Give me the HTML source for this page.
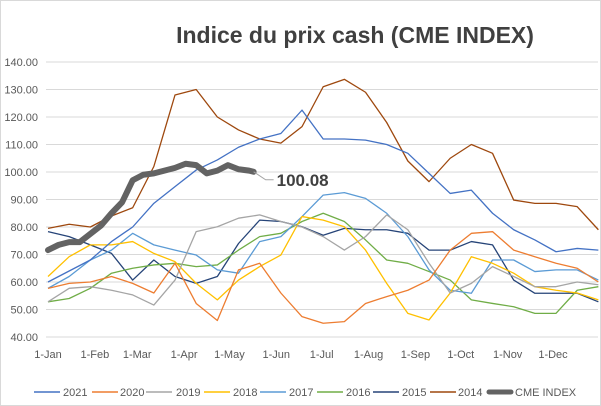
<!DOCTYPE html>
<html><head><meta charset="utf-8"><style>
html,body{margin:0;padding:0;background:#fff;}
svg{display:block;font-family:"Liberation Sans",sans-serif;}
</style></head><body>
<svg id="chart" width="601" height="406" viewBox="0 0 601 406">
<rect x="0.5" y="0.5" width="600" height="405" fill="#fff" stroke="#d9d9d9"/>
<text x="355" y="43" text-anchor="middle" font-size="23" font-weight="bold" fill="#404040">Indice du prix cash (CME INDEX)</text>
<g id="grid"></g><g id="yt"></g><g id="xt"></g><g id="series"></g><g id="legend"></g>
</svg>
<script>
const days = [0,14,28,42,56,70,84,98,112,126,140,154,168,182,196,210,224,238,252,266,280,294,308,322,336,350,364];
const s2021 = [60,64,68,74.7,80,88.6,94.7,100.7,104.4,109,112,114,122.5,112,112,111.6,110,106.8,99.5,92.2,93.4,85,79,75.3,71,72.2,71.6];
const s2020 = [57.7,59.5,60,62,59.5,56,66.8,52.2,46,64.4,66.8,56,47.4,45,45.6,52.2,54.7,57,60.7,71.6,77.7,78.3,71.6,69.2,66.8,65,60];
const s2019 = [52.8,57.7,58.3,57,55.3,51.6,60.7,78.3,80.1,83.2,84.4,82,80,76.5,71.6,76.5,84.4,79,66.8,56,59.5,65.6,62,58.3,58.3,60,59];
const s2018 = [62,69.2,73.5,73.5,74.7,70.4,67.4,59.5,53.5,60.7,65.6,69.8,83.8,82.5,80.1,71.6,59.5,48.6,46.2,56,69.2,66.8,63.2,58.3,57,56,53.5];
const s2017 = [57.7,62,68,71.6,77.7,73.5,71.6,69.8,64.4,63.2,74.7,76.5,83.8,91.6,92.5,90.4,85,76.5,64.4,57,55.9,68,68,63.8,64.4,64.4,60.7];
const s2016 = [52.8,54,57.7,63.2,65,66.2,66.8,65.6,66.2,71.6,76.5,77.7,82,85,82,75.3,68,66.8,63.8,60.7,53.5,52.2,51,48.6,48.6,57,58.3];
const s2015 = [78.3,76.5,73.5,70.4,60.7,68,62,59.5,62,74,82.5,82,80.1,77,79.5,79,79,77.7,71.6,71.6,74.7,73.5,60.7,55.9,55.9,55.9,52.8];
const s2014 = [79.5,81,80,84,87,102,128,130,120,115.3,112,110.5,116.5,131,133.7,129,118,104,96.5,105,110,106.8,89.8,88.6,88.6,87.4,79];
const cmeDays = [0,7,14,21,28,35,42,49,56,63,70,77,84,91,98,105,112,119,126,133,136];
const cmeVals = [71.6,73.5,74.5,74.5,77.5,80.5,85,89,97,99,99.5,100.5,101.5,103,102.5,99.5,100.5,102.5,101,100.5,100.08];
const yTicks = [40,50,60,70,80,90,100,110,120,130,140];
const monthLabels = ["1-Jan","1-Feb","1-Mar","1-Apr","1-May","1-Jun","1-Jul","1-Aug","1-Sep","1-Oct","1-Nov","1-Dec"];
const monthDays = [0,31,59,90,120,151,181,212,243,273,304,334];

const NS="http://www.w3.org/2000/svg";
const X=d=>48+1.512*d;
const Y=v=>337-(v-40)*2.75;
function mk(tag,attrs,parent){const e=document.createElementNS(NS,tag);for(const k in attrs)e.setAttribute(k,attrs[k]);parent.appendChild(e);return e;}
const grid=document.getElementById('grid'),yt=document.getElementById('yt'),xt=document.getElementById('xt'),ser=document.getElementById('series'),leg=document.getElementById('legend');
yTicks.forEach(v=>{
  const l=mk('line',{x1:46,x2:598,y1:Y(v),y2:Y(v),stroke:'#d9d9d9','stroke-width':1},grid);
  
  
  const t=mk('text',{x:38,y:Y(v)+4,'text-anchor':'end','font-size':11,fill:'#595959'},yt);
  t.textContent=v.toFixed(2);
  
  
});
monthLabels.forEach((m,i)=>{
  const t=mk('text',{x:X(monthDays[i]),y:358,'text-anchor':'middle','font-size':11,fill:'#595959'},xt);
  t.textContent=m;
  
  
});
const list=[["2021",s2021,"#4472C4"],["2020",s2020,"#ED7D31"],["2019",s2019,"#A5A5A5"],["2018",s2018,"#FFC000"],["2017",s2017,"#5B9BD5"],["2016",s2016,"#70AD47"],["2015",s2015,"#264478"],["2014",s2014,"#9E480E"]];
list.slice().reverse().forEach(([n,vals,c])=>{
  const p=mk('polyline',{points:vals.map((v,i)=>X(days[i])+','+Y(v)).join(' '),fill:'none',stroke:c,'stroke-width':1.3,'stroke-linejoin':'round'},ser);
  
  
});
const cme=mk('polyline',{points:cmeVals.map((v,i)=>X(cmeDays[i])+','+Y(v)).join(' '),fill:'none',stroke:'#636363','stroke-width':6,'stroke-linejoin':'round','stroke-linecap':'round'},ser);


const lastX=X(cmeDays[cmeDays.length-1]),lastY=Y(cmeVals[cmeVals.length-1]);
const ld=mk('polyline',{points:`${lastX},${lastY} ${lastX+12},${lastY+8} ${lastX+20},${lastY+8}`,fill:'none',stroke:'#a5a5a5','stroke-width':1},ser);


const lab=mk('text',{x:lastX+23,y:lastY+14,'font-size':17,'font-weight':'bold',fill:'#404040'},ser);
lab.textContent=cmeVals[cmeVals.length-1].toFixed(2);


const legPos=[[34,63],[92,120],[146,176],[204,233],[260,289],[317,346],[373,402],[430,458]];
list.forEach(([n,vals,c],i)=>{
  const [lx,tx]=legPos[i];
  const g=mk('g',{},leg);
  
  
  mk('line',{x1:lx,x2:lx+26,y1:392,y2:392,stroke:c,'stroke-width':1.5},g);
  const t=mk('text',{x:tx,y:396,'font-size':11,fill:'#595959'},g);t.textContent=n;
});
const g=mk('g',{},leg);


mk('line',{x1:489,x2:511,y1:392,y2:392,stroke:'#636363','stroke-width':5,'stroke-linecap':'round'},g);
const t=mk('text',{x:515,y:396,'font-size':11,fill:'#595959'},g);t.textContent="CME INDEX";
</script>
</body></html>
